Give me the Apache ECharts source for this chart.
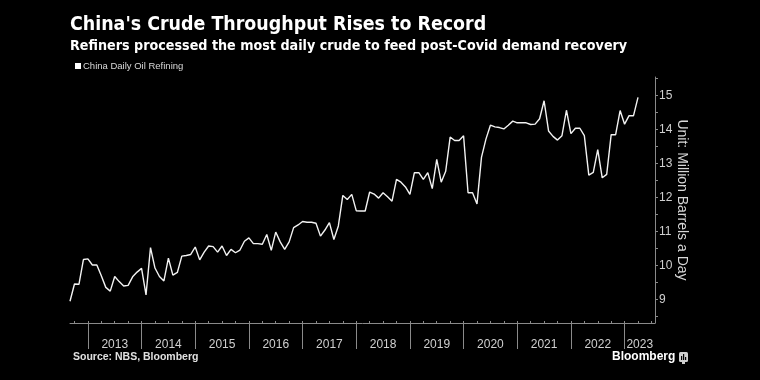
<!DOCTYPE html>
<html><head><meta charset="utf-8">
<script src="https://cdn.jsdelivr.net/npm/echarts@6/dist/echarts.min.js"></script>
<style>html,body{margin:0;padding:0;background:#000}#c{width:760px;height:380px}</style>
</head><body><div id="c"></div>
<script>
// ---- data (monthly, point at month end) ----
const months = [
 '2012-08','2012-09','2012-10','2012-11','2012-12',
 '2013-01','2013-02','2013-03','2013-04','2013-05','2013-06','2013-07','2013-08','2013-09','2013-10','2013-11','2013-12',
 '2014-01','2014-02','2014-03','2014-04','2014-05','2014-06','2014-07','2014-08','2014-09','2014-10','2014-11','2014-12',
 '2015-01','2015-02','2015-03','2015-04','2015-05','2015-06','2015-07','2015-08','2015-09','2015-10','2015-11','2015-12',
 '2016-01','2016-02','2016-03','2016-04','2016-05','2016-06','2016-07','2016-08','2016-09','2016-10','2016-11','2016-12',
 '2017-01','2017-02','2017-03','2017-04','2017-05','2017-06','2017-07','2017-08','2017-09','2017-10','2017-11','2017-12',
 '2018-01','2018-02','2018-03','2018-04','2018-05','2018-06','2018-07','2018-08','2018-09','2018-10','2018-11','2018-12',
 '2019-01','2019-02','2019-03','2019-04','2019-05','2019-06','2019-07','2019-08','2019-09','2019-10','2019-11','2019-12',
 '2020-01','2020-02','2020-03','2020-04','2020-05','2020-06','2020-07','2020-08','2020-09','2020-10','2020-11','2020-12',
 '2021-01','2021-02','2021-03','2021-04','2021-05','2021-06','2021-07','2021-08','2021-09','2021-10','2021-11','2021-12',
 '2022-01','2022-02','2022-03','2022-04','2022-05','2022-06','2022-07','2022-08','2022-09','2022-10','2022-11','2022-12',
 '2023-01','2023-02','2023-03'
];
const values = [
 8.94, 9.45, 9.44, 10.17, 10.19,
 10.01, 10.01, 9.69, 9.35, 9.24, 9.67, 9.52, 9.39, 9.41, 9.66, 9.80, 9.91,
 9.13, 10.52, 9.92, 9.67, 9.54, 10.21, 9.71, 9.79, 10.27, 10.29, 10.32, 10.54,
 10.16, 10.39, 10.57, 10.55, 10.39, 10.57, 10.29, 10.47, 10.37, 10.45, 10.71, 10.81,
 10.64, 10.64, 10.62, 10.91, 10.44, 10.98, 10.69, 10.47, 10.69, 11.11, 11.19, 11.29,
 11.27, 11.27, 11.24, 10.86, 11.04, 11.26, 10.76, 11.16, 12.06, 11.94, 12.09, 11.61,
 11.60, 11.60, 12.16, 12.10, 11.98, 12.14, 12.02, 11.89, 12.53, 12.45, 12.31, 12.09,
 12.73, 12.73, 12.53, 12.73, 12.26, 13.12, 12.45, 12.77, 13.78, 13.68, 13.68, 13.82,
 12.14, 12.14, 11.81, 13.18, 13.72, 14.13, 14.08, 14.06, 14.02, 14.13, 14.25, 14.20,
 14.20, 14.20, 14.15, 14.16, 14.32, 14.85, 13.96, 13.80, 13.69, 13.82, 14.57, 13.88,
 14.04, 14.04, 13.82, 12.66, 12.74, 13.41, 12.58, 12.68, 13.85, 13.85, 14.56, 14.16,
 14.41, 14.41, 14.95
];
const years = [2013, 2014, 2015, 2016, 2017, 2018, 2019, 2020, 2021, 2022, 2023];
const yTickLabels = [9, 10, 11, 12, 13, 14, 15];
const seriesName = 'China Daily Oil Refining';
const titleText = "China's Crude Throughput Rises to Record";
const subtitleText = 'Refiners processed the most daily crude to feed post-Covid demand recovery';
const sourceText = 'Source: NBS, Bloomberg';
const yAxisName = 'Unit: Million Barrels a Day';

// month index: end of Dec 2012 = 0, end of Jan 2013 = 1 ...
const baseYear = years[0];
const monthIndex = s => (parseInt(s.slice(0, 4), 10) - baseYear) * 12 + parseInt(s.slice(5, 7), 10);
const seriesData = months.map((m, i) => [monthIndex(m), values[i]]);
const xMin = -4, xMax = 126.8;
const yearBounds = years.map(y => (y - baseYear) * 12);
const labelPos = years.map((y, i) => i < years.length - 1 ? yearBounds[i] + 6 : (yearBounds[i] + xMax) / 2);
const quarterTicks = [];
for (let q = -3; q <= xMax; q += 3) quarterTicks.push(q);
const yMinorTicks = [];
for (let v = 8.5; v <= 15.5; v += 0.5) yMinorTicks.push(v);

const FONT = '"Liberation Sans", Arial, sans-serif';
const COND = '"DejaVu Sans Condensed", "Liberation Sans", sans-serif';
const chart = echarts.init(document.getElementById('c'), null, { renderer: 'canvas' });
chart.setOption({
  backgroundColor: '#000',
  animation: false,
  grid: { left: 70, right: 105, top: 77, bottom: 57, containLabel: false, outerBoundsMode: 'none' },
  legend: {
    data: [{ name: seriesName, icon: 'rect' }],
    left: 70, top: 56,
    itemWidth: 6, itemHeight: 6,
    textStyle: { color: '#d8d8d8', fontSize: 9.5, fontFamily: FONT, padding: [0, 0, 0, -3] }
  },
  xAxis: [{
    type: 'value', min: xMin, max: xMax, position: 'bottom',
    axisLine: { show: true, onZero: false, lineStyle: { color: '#8a8a8a', width: 1 } },
    axisTick: { show: true, customValues: yearBounds, length: 26, lineStyle: { color: '#8a8a8a' } },
    axisLabel: {
      customValues: labelPos, color: '#d0d0d0', fontSize: 12, fontFamily: FONT, margin: 16,
      formatter: v => String(baseYear + Math.floor(v / 12))
    },
    splitLine: { show: false }
  }, {
    type: 'value', min: xMin, max: xMax, position: 'bottom',
    axisLine: { show: false, onZero: false },
    axisTick: { show: true, inside: true, customValues: quarterTicks, length: 2, lineStyle: { color: '#8a8a8a' } },
    axisLabel: { show: false },
    splitLine: { show: false }
  }],
  yAxis: {
    type: 'value', position: 'right', min: 8.3, max: 15.55,
    axisLine: { show: true, onZero: false, lineStyle: { color: '#8a8a8a', width: 1 } },
    axisTick: { show: true, customValues: yMinorTicks, length: 3, lineStyle: { color: '#8a8a8a' } },
    axisLabel: { customValues: yTickLabels, color: '#d0d0d0', fontSize: 12, fontFamily: FONT, margin: 4 },
    splitLine: { show: false },
    name: yAxisName, nameLocation: 'middle', nameRotate: -90, nameGap: 20, nameMoveOverlap: false,
    nameTextStyle: { color: '#d8d8d8', fontSize: 14, fontFamily: FONT }
  },
  series: [{
    name: seriesName, type: 'line', xAxisIndex: 0, data: seriesData,
    showSymbol: false, symbol: 'none',
    lineStyle: { color: '#f2f2f2', width: 1.4 },
    itemStyle: { color: '#ffffff' }
  }],
  graphic: [
    { type: 'text', left: 70, top: 15, style: { text: titleText, fill: '#ffffff', fontSize: 19.4, fontWeight: 'bold', fontFamily: COND } },
    { type: 'text', left: 70, top: 39, style: { text: subtitleText, fill: '#ffffff', fontSize: 14.2, fontWeight: 'bold', fontFamily: COND } },
    { type: 'text', left: 73, top: 352, style: { text: sourceText, fill: '#e0e0e0', fontSize: 10.5, fontWeight: 'bold', fontFamily: FONT } },
    { type: 'text', left: 612, top: 351, style: { text: 'Bloomberg', fill: '#ffffff', fontSize: 12, fontWeight: 'bold', fontFamily: FONT } },
    { type: 'group', left: 679, top: 352, children: [
      { type: 'rect', shape: { x: 0, y: 0, width: 9, height: 10, r: 1.5 }, style: { fill: '#cfcfcf' } },
      { type: 'rect', shape: { x: 2, y: 4, width: 1.2, height: 4 }, style: { fill: '#000' } },
      { type: 'rect', shape: { x: 4, y: 2, width: 1.2, height: 6 }, style: { fill: '#000' } },
      { type: 'rect', shape: { x: 6, y: 5, width: 1.2, height: 3 }, style: { fill: '#000' } },
      { type: 'rect', shape: { x: 3, y: 10, width: 3, height: 2 }, style: { fill: '#cfcfcf' } }
    ] }
  ]
});
</script>
</body></html>
